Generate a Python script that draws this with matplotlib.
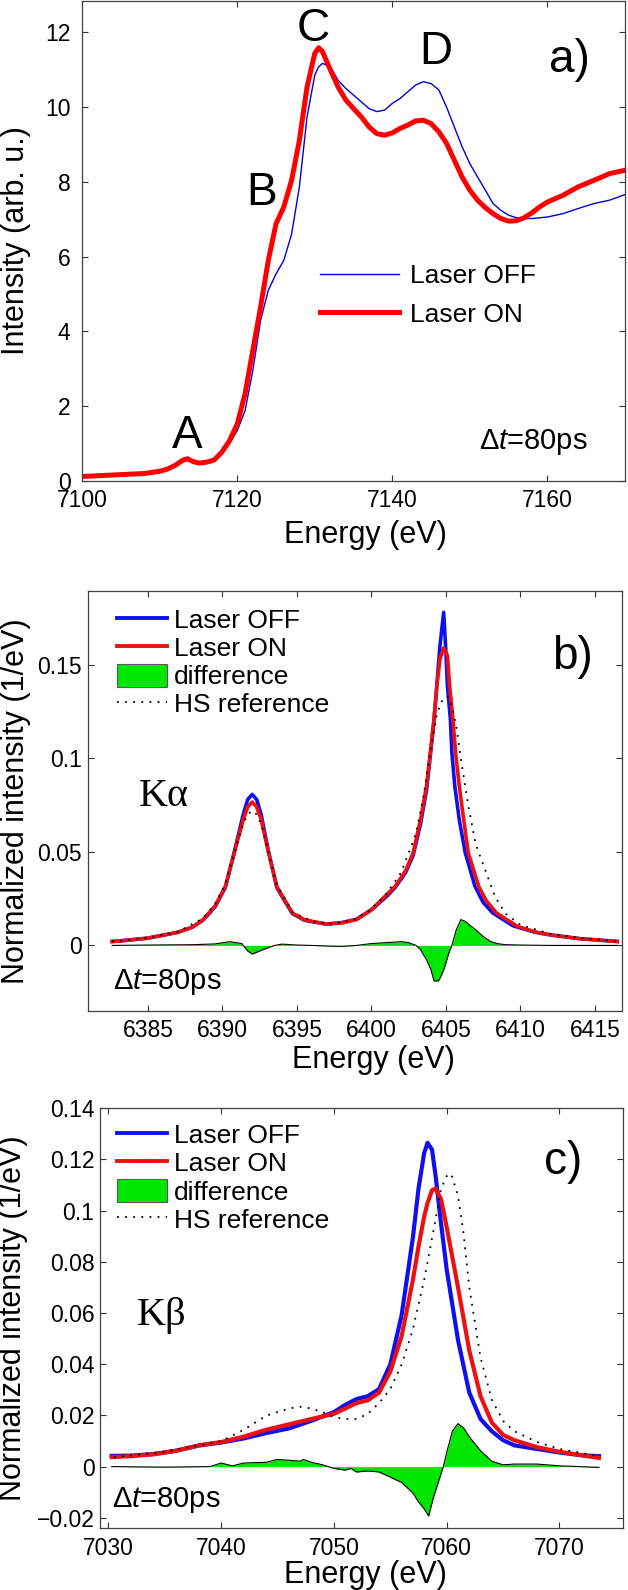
import matplotlib
matplotlib.use('Agg')
from matplotlib import pyplot as plt
from matplotlib.lines import Line2D
from matplotlib.patches import Patch

plt.rcParams['font.family'] = ['Liberation Sans', 'DejaVu Sans']
plt.rcParams['mathtext.fontset'] = 'custom'
plt.rcParams['mathtext.rm'] = 'Liberation Sans'
plt.rcParams['mathtext.it'] = 'Liberation Sans:italic'

# ---- panel a: XANES ----
energy_a = [7100, 7102, 7104, 7106, 7108, 7110, 7111, 7112, 7113, 7113.6, 7114.3,
            7115, 7116, 7117, 7118, 7119, 7120, 7121, 7122, 7123, 7124, 7125,
            7126, 7127, 7128, 7129, 7130, 7130.5, 7131, 7132, 7133, 7134, 7135,
            7136, 7137, 7138, 7139, 7140, 7141, 7142, 7143, 7144, 7145, 7146,
            7147, 7148, 7149, 7150, 7151, 7152, 7153, 7154, 7155, 7156, 7157,
            7158, 7159, 7160, 7162, 7164, 7166, 7168, 7170]
off_a = [0.12, 0.14, 0.16, 0.18, 0.2, 0.26, 0.32, 0.43, 0.6, 0.64, 0.55,
         0.5, 0.5, 0.55, 0.72, 1.0, 1.35, 1.88, 2.95, 4.29, 5.1, 5.54,
         5.9, 6.6, 7.85, 9.74, 10.86, 11.08, 11.17, 11.08, 10.72, 10.5, 10.32,
         10.14, 9.96, 9.88, 9.92, 10.1, 10.23, 10.41, 10.59, 10.68, 10.63, 10.46,
         10.0, 9.47, 8.94, 8.49, 8.13, 7.78, 7.42, 7.24, 7.11, 7.04, 7.02,
         7.02, 7.04, 7.06, 7.15, 7.29, 7.42, 7.51, 7.66]
on_a = [0.12, 0.14, 0.16, 0.18, 0.2, 0.26, 0.32, 0.42, 0.56, 0.59, 0.52,
        0.48, 0.5, 0.56, 0.77, 1.08, 1.53, 2.33, 3.49, 4.65, 5.9, 6.88,
        7.33, 8.04, 9.1, 10.54, 11.44, 11.59, 11.48, 11.0, 10.54, 10.19, 9.96,
        9.74, 9.47, 9.29, 9.25, 9.31, 9.43, 9.52, 9.63, 9.65, 9.56, 9.34,
        9.03, 8.58, 8.13, 7.78, 7.51, 7.31, 7.15, 7.02, 6.95, 6.96, 7.04,
        7.17, 7.33, 7.46, 7.64, 7.87, 8.04, 8.22, 8.31]

# ---- panel b: K-alpha ----
energy_on_b = [6382.6, 6383, 6385, 6387, 6388, 6388.7, 6389.5, 6390.2, 6390.8, 6391.4,
               6391.7, 6392, 6392.3, 6392.6, 6393.1, 6393.65, 6394.2, 6394.7, 6395.5, 6396,
               6397, 6398, 6399, 6400, 6401, 6401.6, 6402.3, 6402.8, 6403.3, 6403.7,
               6403.95, 6404.2, 6404.4, 6404.6, 6404.85, 6405.1, 6405.25, 6405.47, 6405.65, 6405.9,
               6406.2, 6406.5, 6407.2, 6407.7, 6408.4, 6409.8, 6411, 6412, 6414, 6416.5]
on_b = [0.0021, 0.0023, 0.0039, 0.007, 0.0098, 0.0138, 0.021, 0.0316, 0.0495, 0.0673,
        0.074, 0.0766, 0.074, 0.0673, 0.0495, 0.0316, 0.024, 0.0173, 0.0138, 0.0129,
        0.0114, 0.012, 0.0138, 0.019, 0.027, 0.0316, 0.04, 0.0495, 0.0673, 0.0852,
        0.103, 0.121, 0.139, 0.153, 0.159, 0.155, 0.139, 0.121, 0.103, 0.085,
        0.067, 0.0495, 0.0316, 0.024, 0.0173, 0.0102, 0.0072, 0.0057, 0.0036, 0.0021]
energy_off_b = [6382.6, 6383, 6385, 6387, 6388, 6388.7, 6389.5, 6390.2, 6390.8, 6391.4,
                6391.7, 6392, 6392.3, 6392.6, 6393.1, 6393.65, 6394.2, 6394.7, 6395.5, 6396,
                6397, 6398, 6399, 6400, 6401, 6401.6, 6402.3, 6402.8, 6403.3, 6403.7,
                6403.95, 6404.2, 6404.4, 6404.6, 6404.85, 6405.0, 6405.1, 6405.3, 6405.4, 6405.6,
                6405.9, 6406.3, 6406.95, 6407.5, 6408.15, 6409.5, 6411, 6412, 6414, 6416.5]
off_b = [0.0021, 0.0023, 0.0039, 0.007, 0.0098, 0.0135, 0.0205, 0.031, 0.05, 0.07,
         0.078, 0.0807, 0.078, 0.07, 0.05, 0.031, 0.0235, 0.017, 0.0135, 0.0127,
         0.0114, 0.0122, 0.014, 0.019, 0.026, 0.031, 0.039, 0.048, 0.065, 0.083,
         0.101, 0.12, 0.14, 0.16, 0.178, 0.157, 0.139, 0.121, 0.103, 0.085,
         0.067, 0.0495, 0.0316, 0.023, 0.0173, 0.0105, 0.007, 0.0056, 0.0036, 0.0021]
energy_hs_b = [6382.6, 6385, 6387, 6388.7, 6389.5, 6390.2, 6390.8, 6391.4, 6391.7, 6392,
               6392.3, 6392.6, 6393.1, 6393.65, 6394.7, 6396, 6397, 6398, 6399, 6400,
               6401, 6402, 6403, 6403.5, 6404, 6404.4, 6404.8, 6405.1, 6405.4, 6405.7,
               6406, 6406.5, 6407, 6407.7, 6408.3, 6409, 6410, 6412, 6414, 6416.5]
hs_b = [0.0021, 0.004, 0.0072, 0.0145, 0.022, 0.033, 0.05, 0.065, 0.07, 0.072,
        0.07, 0.065, 0.0495, 0.0325, 0.0178, 0.013, 0.0115, 0.0123, 0.0142, 0.0195,
        0.0275, 0.039, 0.06, 0.08, 0.106, 0.124, 0.132, 0.133, 0.128, 0.117,
        0.1, 0.075, 0.054, 0.039, 0.026, 0.017, 0.011, 0.0062, 0.004, 0.0023]
energy_diff_b = [6382.6, 6385, 6388, 6389.5, 6390.5, 6391.3, 6391.7, 6392, 6392.5, 6393,
                 6393.5, 6394, 6395, 6396, 6397, 6398, 6399, 6400, 6401, 6402,
                 6402.5, 6403, 6403.3, 6403.7, 6404, 6404.2, 6404.5, 6404.7, 6404.9, 6405.2,
                 6405.4, 6405.7, 6406, 6406.3, 6406.7, 6407, 6407.5, 6408, 6408.5, 6409,
                 6410, 6412, 6416.5]
diff_b = [0, 0.0002, 0.0004, 0.0008, 0.002, 0.001, -0.003, -0.0046, -0.003, -0.0014,
          0, 0.0007, 0.0002, 0, -0.0003, -0.0005, 0, 0.001, 0.0015, 0.002,
          0.0015, 0, -0.0023, -0.0077, -0.013, -0.019, -0.019, -0.016, -0.012, -0.004,
          0, 0.0084, 0.0138, 0.0129, 0.0102, 0.0084, 0.0048, 0.0021, 0.0009, 0.0004,
          0.0002, 0, 0]

# ---- panel c: K-beta ----
energy_c = [7030.3, 7032, 7034, 7036, 7038, 7040, 7042, 7044, 7046, 7048,
            7050, 7051, 7052, 7053, 7054, 7055, 7056, 7057, 7057.5, 7058,
            7058.3, 7058.7, 7059, 7059.5, 7060, 7061, 7062, 7063, 7064, 7065,
            7066, 7068, 7070, 7072, 7073.5]
off_c = [0.0042, 0.0043, 0.0049, 0.0062, 0.0082, 0.0094, 0.011, 0.0131, 0.0149, 0.0179,
         0.0213, 0.0241, 0.0264, 0.0275, 0.0303, 0.0399, 0.0591, 0.0894, 0.1086, 0.1224,
         0.1265, 0.1238, 0.1141, 0.0949, 0.077, 0.0495, 0.0289, 0.0186, 0.0138, 0.0103,
         0.0083, 0.0069, 0.0055, 0.0044, 0.0041]
on_c = [0.0037, 0.0041, 0.0048, 0.0062, 0.0083, 0.0096, 0.0117, 0.0144, 0.0165, 0.0186,
        0.0206, 0.0227, 0.0248, 0.0259, 0.0289, 0.0371, 0.0509, 0.0729, 0.086, 0.0976,
        0.103, 0.108, 0.1086, 0.1045, 0.0935, 0.0701, 0.0454, 0.0275, 0.0172, 0.0124,
        0.0103, 0.0076, 0.0058, 0.0044, 0.0034]
energy_hs_c = [7030.5, 7035, 7040, 7042, 7044, 7046, 7047, 7048, 7049, 7050,
               7051, 7052, 7053, 7054, 7055, 7056, 7057, 7058, 7059, 7059.5,
               7060, 7060.4, 7061, 7061.5, 7062, 7063, 7064, 7065, 7066, 7068,
               7070, 7073.5]
hs_c = [0.0037, 0.0058, 0.0099, 0.0144, 0.0199, 0.0227, 0.0234, 0.0227, 0.0213, 0.0193,
        0.0186, 0.0186, 0.0206, 0.0248, 0.0303, 0.0399, 0.0536, 0.0729, 0.0963, 0.1086,
        0.1135, 0.1144, 0.1059, 0.0908, 0.0701, 0.0426, 0.0261, 0.0179, 0.0138, 0.0096,
        0.0069, 0.0041]
energy_diff_c = [7030.3, 7035, 7039, 7040, 7041, 7042, 7044, 7045, 7046, 7047,
                 7047.3, 7048, 7049, 7050, 7051, 7051.5, 7052, 7053, 7054, 7055,
                 7056, 7057, 7057.5, 7058, 7058.4, 7058.8, 7059.3, 7059.7, 7060, 7060.5,
                 7061, 7061.5, 7062, 7063, 7064, 7065, 7066, 7068, 7070, 7073.5]
diff_c = [0, -0.0002, 0, 0.0014, 0.0003, 0.0014, 0.0017, 0.0028, 0.0025, 0.0021,
          0.0028, 0.0017, 0.0007, -0.0007, -0.0014, -0.0007, -0.0021, -0.0017, -0.0021, -0.0041,
          -0.0062, -0.0103, -0.0138, -0.0165, -0.0193, -0.0124, -0.0055, 0, 0.0055, 0.0138,
          0.0168, 0.0151, 0.0117, 0.0062, 0.0021, 0.0007, 0.001, 0.001, 0.0003, -0.0003]

GREEN = '#00e600'
BLUE = '#1010ee'
RED = '#ee1010'
DOTS = (0, (1, 3.5))
DT_LABEL = r'$\Delta\mathit{t}$=80ps'


def style_axes(ax, ypad):
    '''
    MATLAB-like box: inward ticks on all four sides.
    '''
    ax.tick_params(direction='in', top=True, right=True, length=4.5, width=0.8,
                   labelsize=16.5, color='0.2')
    ax.tick_params(axis='x', pad=6)
    ax.tick_params(axis='y', pad=ypad)
    for spine in ax.spines.values():
        spine.set_linewidth(0.9)
        spine.set_color('0.25')


def plot_emission(ax, energy_off, off, energy_on, on, energy_hs, hs,
                  energy_diff, diff, lw):
    '''
    Plots one emission panel (Laser OFF/ON, difference, HS reference)
    and returns the legend handles and labels.
    '''
    ax.fill_between(energy_diff, 0, diff, color=GREEN, linewidth=0)
    ax.plot(energy_diff, diff, color='black', lw=0.8)
    ax.plot(energy_off, off, color=BLUE, lw=lw, solid_joinstyle='round')
    ax.plot(energy_on, on, color=RED, lw=lw, solid_joinstyle='round')
    ax.plot(energy_hs, hs, color='black', lw=1.3, linestyle=DOTS)

    handles = [
        Line2D([], [], color=BLUE, lw=2.8),
        Line2D([], [], color=RED, lw=2.8),
        Patch(facecolor=GREEN, edgecolor='0.35', linewidth=0.8),
        Line2D([], [], color='black', lw=1.3, linestyle=DOTS),
    ]
    labels = ['Laser OFF', 'Laser ON', 'difference', 'HS reference']
    return handles, labels


fig = plt.figure(figsize=(6.28, 15.9), dpi=100)

# ---- a) ----
ax_a = fig.add_axes([0.131, 0.6975, 0.864, 0.3019])
ax_a.plot(energy_a, off_a, color='#0000dd', lw=1.0, label='Laser OFF')
ax_a.plot(energy_a, on_a, color='#ff0000', lw=3.6, label='Laser ON',
          solid_joinstyle='round')
ax_a.set_xlim(7100, 7170)
ax_a.set_ylim(0, 12.84)
ax_a.set_xticks([7100, 7120, 7140, 7160])
ax_a.set_yticks([0, 2, 4, 6, 8, 10, 12])
style_axes(ax_a, 8.5)
ax_a.set_xlabel('Energy (eV)', fontsize=22)
ax_a.set_ylabel('Intensity (arb. u.)', fontsize=22)
ax_a.xaxis.set_label_coords(0.522, -0.081)
ax_a.yaxis.set_label_coords(-0.0945, 0.5)
ax_a.legend(loc='upper left', bbox_to_anchor=(0.438, 0.452), frameon=False,
            fontsize=19, handlelength=3.0, handletextpad=0.4, labelspacing=0.55,
            borderpad=0, borderaxespad=0)
for txt, ex, ey in [('A', 7113.6, 1.21), ('B', 7123.1, 7.69),
                    ('C', 7129.8, 12.1), ('D', 7145.6, 11.48)]:
    ax_a.text(ex, ey, txt, fontsize=33, ha='center', va='center')
ax_a.text(7162.8, 11.26, 'a)', fontsize=33, ha='center', va='center')
ax_a.text(7158.2, 1.04, DT_LABEL, fontsize=21, ha='center', va='center')

# ---- b) ----
ax_b = fig.add_axes([0.1406, 0.3642, 0.8494, 0.2642])
handles, labels = plot_emission(ax_b, energy_off_b, off_b, energy_on_b, on_b,
                                energy_hs_b, hs_b, energy_diff_b, diff_b, 2.6)
ax_b.set_xlim(6381, 6416.8)
ax_b.set_ylim(-0.035, 0.1895)
ax_b.set_xticks([6385, 6390, 6395, 6400, 6405, 6410, 6415])
ax_b.set_yticks([0, 0.05, 0.1, 0.15])
ax_b.set_yticklabels(['0', '0.05', '0.1', '0.15'])
style_axes(ax_b, 4.7)
ax_b.set_xlabel('Energy (eV)', fontsize=22)
ax_b.set_ylabel('Normalized intensity (1/eV)', fontsize=22)
ax_b.xaxis.set_label_coords(0.534, -0.081)
ax_b.yaxis.set_label_coords(-0.1074, 0.5)
ax_b.legend(handles, labels, loc='upper left', bbox_to_anchor=(0.0544, 0.96),
            frameon=False, fontsize=19, handlelength=1.9, handletextpad=0.25,
            labelspacing=0.1, handleheight=0.95, borderpad=0, borderaxespad=0)
ax_b.text(6386.1, 0.0798, 'K\u03b1', family='Liberation Serif', fontsize=29,
          ha='center', va='center')
ax_b.text(6413.5, 0.154, 'b)', fontsize=33, ha='center', va='center')
ax_b.text(6386.3, -0.0193, DT_LABEL, fontsize=21, ha='center', va='center')

# ---- c) ----
ax_c = fig.add_axes([0.1592, 0.0388, 0.8323, 0.2642])
handles, labels = plot_emission(ax_c, energy_c, off_c, energy_c, on_c,
                                energy_hs_c, hs_c, energy_diff_c, diff_c, 3.0)
ax_c.set_xlim(7029.26, 7075.6)
ax_c.set_ylim(-0.0241, 0.14)
ax_c.set_xticks([7030, 7040, 7050, 7060, 7070])
ax_c.set_yticks([-0.02, 0, 0.02, 0.04, 0.06, 0.08, 0.1, 0.12, 0.14])
ax_c.set_yticklabels(['\u22120.02', '0', '0.02', '0.04', '0.06', '0.08', '0.1',
                      '0.12', '0.14'])
style_axes(ax_c, 4.0)
ax_c.set_xlabel('Energy (eV)', fontsize=22)
ax_c.set_ylabel('Normalized intensity (1/eV)', fontsize=22)
ax_c.xaxis.set_label_coords(0.507, -0.0755)
ax_c.yaxis.set_label_coords(-0.1377, 0.5)
ax_c.legend(handles, labels, loc='upper left', bbox_to_anchor=(0.033, 0.965),
            frameon=False, fontsize=19, handlelength=1.9, handletextpad=0.25,
            labelspacing=0.1, handleheight=0.95, borderpad=0, borderaxespad=0)
ax_c.text(7034.7, 0.0591, 'K\u03b2', family='Liberation Serif', fontsize=29,
          ha='center', va='center')
ax_c.text(7070.3, 0.119, 'c)', fontsize=33, ha='center', va='center')
ax_c.text(7035.1, -0.0131, DT_LABEL, fontsize=21, ha='center', va='center')

fig.savefig('out.png', dpi=100)
